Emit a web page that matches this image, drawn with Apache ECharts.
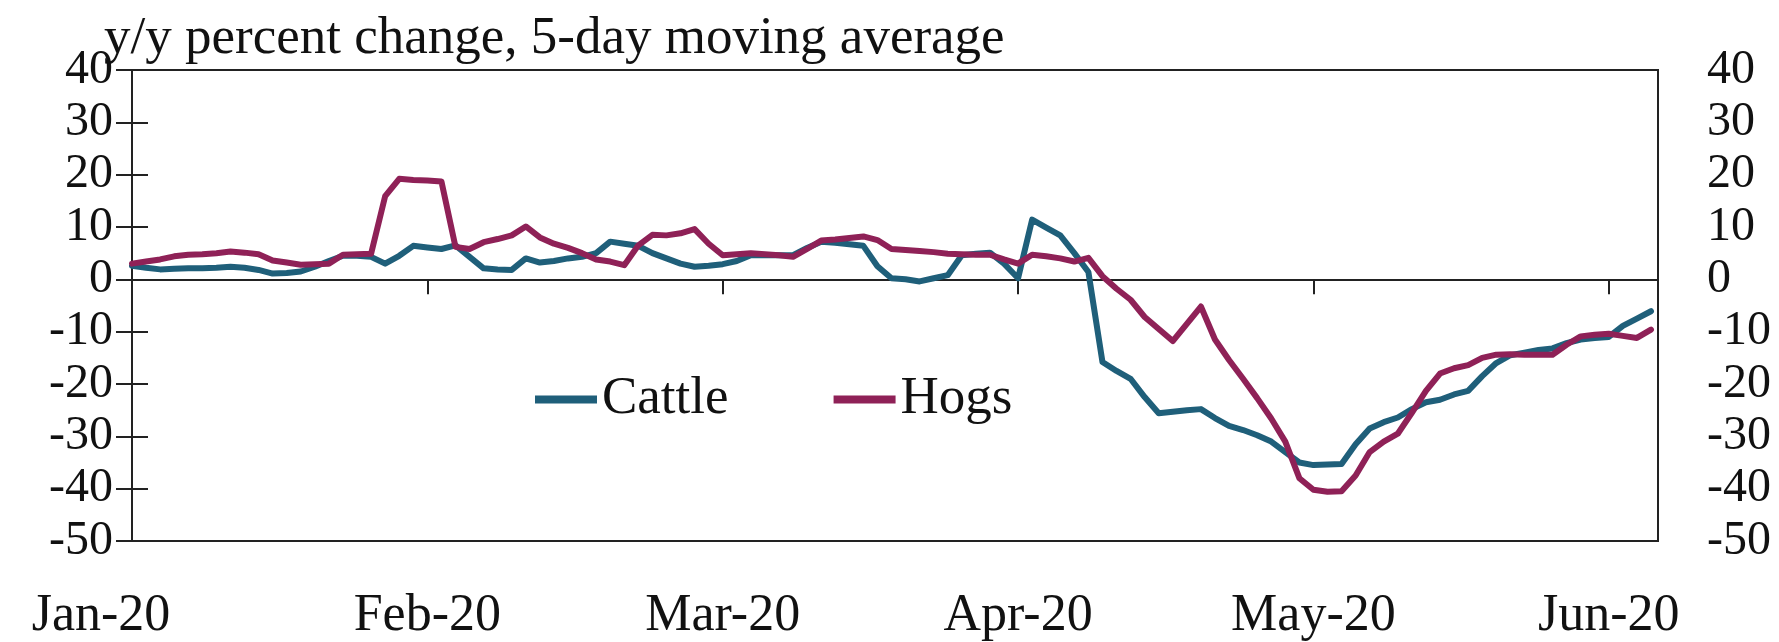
<!DOCTYPE html>
<html>
<head>
<meta charset="utf-8">
<script src="https://cdn.jsdelivr.net/npm/echarts@6/dist/echarts.min.js"></script>
<style>
html,body{margin:0;padding:0;background:#fff;}
#chart{width:1779px;height:642px;}
</style>
</head>
<body>
<div id="chart"></div>
<script>
// Tick labels (one per month; each month spans 21 trading-day slots on the axis)
const monthLabels = ['Jan-20', 'Feb-20', 'Mar-20', 'Apr-20', 'May-20', 'Jun-20'];
const daysPerMonth = 21;
const yTicks = {min: -50, max: 40, interval: 10};
const titleText = 'y/y percent change, 5-day moving average';
const seriesNames = ['Cattle', 'Hogs'];

// y/y percent change, 5-day moving average, one value per trading day
const cattle = [
  2.6, 2.2, 1.9, 2.0, 2.1, 2.1, 2.2, 2.4, 2.2, 1.8,
  1.1, 1.2, 1.5, 2.4, 3.5, 4.5, 4.5, 4.3, 3.0, 4.5,
  6.4, 6.1, 5.8, 6.5, 4.3, 2.1, 1.9, 1.8, 4.0, 3.2,
  3.5, 4.0, 4.3, 5.0, 7.2, 6.8, 6.4, 5.0, 4.0, 3.0,
  2.4, 2.6, 2.9, 3.5, 4.6, 4.6, 4.6, 4.6, 6.0, 7.2,
  7.0, 6.7, 6.4, 2.5, 0.2, 0.0, -0.4, 0.2, 0.8, 4.6,
  4.9, 5.1, 3.0, 0.2, 11.4, 9.9, 8.4, 5.0, 1.4, -15.8,
  -17.5, -19.0, -22.5, -25.6, -25.3, -25.0, -24.8, -26.5, -28.0, -28.8,
  -29.8, -31.0, -33.0, -35.0, -35.5, -35.4, -35.3, -31.5, -28.5, -27.3,
  -26.4, -24.8, -23.5, -23.0, -22.0, -21.3, -18.5, -16.0, -14.5, -14.0,
  -13.5, -13.2, -12.2, -11.5, -11.2, -11.0, -8.9, -7.5, -6.1
];
const hogs = [
  3.0, 3.4, 3.8, 4.4, 4.7, 4.8, 5.0, 5.3, 5.1, 4.8,
  3.6, 3.2, 2.8, 2.9, 3.0, 4.7, 4.8, 4.9, 15.9, 19.2,
  19.0, 18.9, 18.7, 6.2, 5.8, 7.1, 7.7, 8.4, 10.1, 8.0,
  6.8, 6.0, 5.0, 3.8, 3.4, 2.7, 6.5, 8.5, 8.4, 8.8,
  9.6, 6.8, 4.6, 4.8, 5.0, 4.8, 4.6, 4.3, 5.8, 7.4,
  7.6, 7.9, 8.2, 7.5, 5.8, 5.6, 5.4, 5.2, 4.9, 4.8,
  4.7, 4.7, 3.8, 3.0, 4.7, 4.4, 4.0, 3.4, 4.1, 0.6,
  -1.8, -3.9, -7.2, -9.5, -11.8, -8.5, -5.2, -11.5, -15.4, -19.0,
  -22.7, -26.6, -31.0, -38.0, -40.2, -40.6, -40.5, -37.5, -33.0, -31.0,
  -29.5, -25.5, -21.3, -18.0, -17.0, -16.4, -15.0, -14.4, -14.3, -14.4,
  -14.4, -14.4, -12.5, -10.9, -10.6, -10.4, -10.8, -11.2, -9.6
];

const colors = ['#1f5f7a', '#8f2157'];
const FONT = '"Liberation Serif", "DejaVu Serif", serif';
const axisColor = '#222';
const xMax = cattle.length - 0.5;

const toPairs = arr => arr.map((v, i) => [i, v]);
const monthFmt = v => {
  if (v % daysPerMonth !== 0 || v / daysPerMonth >= monthLabels.length) return '';
  const lab = monthLabels[v / daysPerMonth];
  return v === 0 ? '{first|' + lab + '}' : lab;
};

const chart = echarts.init(document.getElementById('chart'), null, {renderer: 'canvas'});
chart.setOption({
  animation: false,
  backgroundColor: '#fff',
  title: {
    text: titleText,
    left: 99, top: 8,
    textStyle: {fontFamily: FONT, fontSize: 53, fontWeight: 'normal', color: '#111'}
  },
  legend: {
    data: seriesNames,
    left: 530, top: 368,
    itemWidth: 62, itemHeight: 8, itemGap: 105,
    icon: 'rect',
    textStyle: {fontFamily: FONT, fontSize: 53, color: '#111'}
  },
  grid: {
    left: 132, right: 121, top: 70, bottom: 94,
    show: true, borderColor: axisColor, borderWidth: 2, backgroundColor: 'transparent'
  },
  xAxis: [
    {
      type: 'value', min: 0, max: xMax, interval: daysPerMonth,
      axisLine: {onZero: true, lineStyle: {color: axisColor, width: 2}},
      axisTick: {show: true, inside: false, length: 15, lineStyle: {color: axisColor, width: 2}},
      axisLabel: {show: false},
      splitLine: {show: false}
    },
    {
      type: 'value', min: 0, max: xMax, interval: daysPerMonth, position: 'bottom',
      axisLine: {show: false, onZero: false},
      axisTick: {show: false},
      axisLabel: {
        show: true, formatter: monthFmt, margin: 75, verticalAlign: 'middle',
        fontFamily: FONT, fontSize: 52, color: '#111', showMaxLabel: false,
        rich: {first: {fontFamily: FONT, fontSize: 52, color: '#111', padding: [0, 62, 0, 0]}}
      },
      splitLine: {show: false}
    }
  ],
  yAxis: [
    {
      type: 'value', position: 'left', min: yTicks.min, max: yTicks.max, interval: yTicks.interval,
      axisLine: {show: true, lineStyle: {color: axisColor, width: 2}},
      axisTick: {show: true, inside: false, length: 16, lineStyle: {color: axisColor, width: 2}},
      axisLabel: {fontFamily: FONT, fontSize: 48, color: '#111', margin: 19},
      splitLine: {show: false}
    },
    {
      type: 'value', position: 'right', min: yTicks.min, max: yTicks.max, interval: yTicks.interval,
      axisLine: {show: true, lineStyle: {color: axisColor, width: 2}},
      axisTick: {show: true, inside: false, length: 16, lineStyle: {color: axisColor, width: 2}},
      axisLabel: {fontFamily: FONT, fontSize: 48, color: '#111', margin: 49, align: 'left'},
      splitLine: {show: false}
    }
  ],
  series: [
    {
      name: seriesNames[0], type: 'line', xAxisIndex: 0, yAxisIndex: 0,
      data: toPairs(cattle), showSymbol: false, symbol: 'none',
      lineStyle: {color: colors[0], width: 6, join: 'round', cap: 'round'}, itemStyle: {color: colors[0]},
      z: 3
    },
    {
      name: seriesNames[1], type: 'line', xAxisIndex: 0, yAxisIndex: 0,
      data: toPairs(hogs), showSymbol: false, symbol: 'none',
      lineStyle: {color: colors[1], width: 6, join: 'round', cap: 'round'}, itemStyle: {color: colors[1]},
      z: 4
    }
  ]
});
</script>
</body>
</html>
